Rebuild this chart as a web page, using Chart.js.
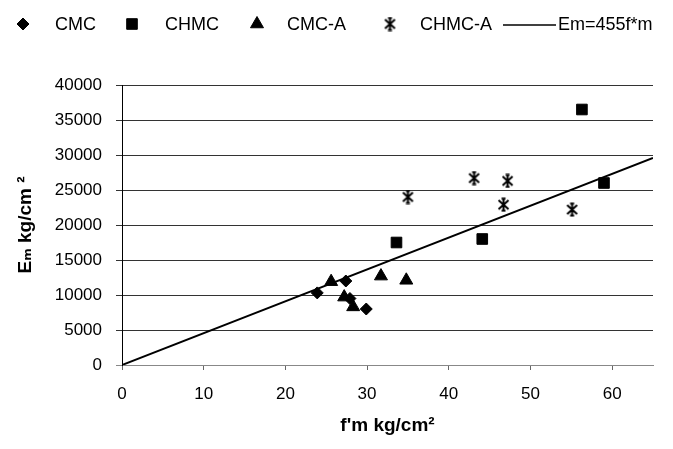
<!DOCTYPE html>
<html>
<head>
<meta charset="utf-8">
<script src="https://cdn.jsdelivr.net/npm/chart.js@4.4.0/dist/chart.umd.min.js"></script>
<style>
html, body { margin: 0; padding: 0; background: #fff; }
</style>
</head>
<body>
<canvas id="myChart" width="673" height="449"></canvas>
<script>
// values
var cmcX = [23.9, 27.4, 27.9, 29.9];
var cmcY = [10300, 12000, 9500, 8000];

var chmcX = [33.6, 44.1, 56.3, 59.0];
var chmcY = [17500, 18000, 36500, 26000];

var cmcaX = [25.6, 27.2, 28.3, 31.7, 34.8];
var cmcaY = [11900, 9700, 8300, 12700, 12100];

var chmcaX = [35.0, 43.1, 46.7, 47.2, 55.1];
var chmcaY = [24000, 26700, 22900, 26300, 22200];

// Em = 455 f'm, drawn across the x range
var fitX = [0, 65];
var fitY = [0, 29575];

var seriesNames = ['CMC', 'CHMC', 'CMC-A', 'CHMC-A', 'Em=455f*m'];

function toPoints(xs, ys) {
    return xs.map(function(x, i) { return { x: x, y: ys[i] }; });
}

// asterisk marker like the excel "star"
function makeStar() {
    var c = document.createElement('canvas');
    c.width = 15; c.height = 15;
    var g = c.getContext('2d');
    g.strokeStyle = '#000';
    g.lineWidth = 2;
    g.beginPath();
    g.moveTo(7.5, 1); g.lineTo(7.5, 14);
    g.moveTo(2.5, 3); g.lineTo(12.5, 12);
    g.moveTo(12.5, 3); g.lineTo(2.5, 12);
    g.moveTo(5.5, 1.5); g.lineTo(9.5, 1.5);
    g.moveTo(5.5, 13.5); g.lineTo(9.5, 13.5);
    g.stroke();
    return c;
}
var star = makeStar();

var font = "'Liberation Sans', Arial, 'DejaVu Sans', sans-serif";

var legendPlugin = {
    id: 'topLegend',
    afterDraw: function(chart) {
        var ctx = chart.ctx;
        var ds = chart.data.datasets;
        var markX = [23, 132, 257, 390];
        var textX = [55, 165, 287, 420];
        var y = 24;
        ctx.save();
        ctx.fillStyle = '#000';
        ctx.strokeStyle = '#000';
        for (var i = 0; i < 4; i++) {
            Chart.helpers.drawPoint(ctx, {
                pointStyle: ds[i].pointStyle,
                radius: ds[i].pointRadius,
                rotation: 0,
                borderWidth: 1
            }, markX[i], y);
        }
        ctx.lineWidth = 1.5;
        ctx.beginPath();
        ctx.moveTo(503, y + 1);
        ctx.lineTo(556, y + 1);
        ctx.stroke();
        ctx.font = '18px ' + font;
        ctx.textBaseline = 'middle';
        for (var j = 0; j < 4; j++) {
            ctx.fillText(ds[j].label, textX[j], y + 1);
        }
        ctx.fillText(ds[4].label, 558, y + 1);
        ctx.restore();
    }
};

var ctx = document.getElementById('myChart');

var myChart = new Chart(ctx, {
    type: 'scatter',
    data: {
        datasets: [{
            label: seriesNames[0],
            data: toPoints(cmcX, cmcY),
            pointStyle: 'rectRot',
            pointRadius: 6,
            backgroundColor: '#000',
            borderColor: '#000'
        }, {
            label: seriesNames[1],
            data: toPoints(chmcX, chmcY),
            pointStyle: 'rect',
            pointRadius: 7.5,
            backgroundColor: '#000',
            borderColor: '#000'
        }, {
            label: seriesNames[2],
            data: toPoints(cmcaX, cmcaY),
            pointStyle: 'triangle',
            pointRadius: 7.5,
            backgroundColor: '#000',
            borderColor: '#000'
        }, {
            label: seriesNames[3],
            data: toPoints(chmcaX, chmcaY),
            pointStyle: star,
            pointRadius: 7,
            backgroundColor: '#000',
            borderColor: '#000'
        }, {
            label: seriesNames[4],
            data: toPoints(fitX, fitY),
            type: 'line',
            showLine: true,
            pointRadius: 0,
            borderColor: '#000',
            borderWidth: 2,
            fill: false
        }]
    },
    options: {
        responsive: false,
        animation: false,
        layout: {
            padding: { top: 85, left: 14, right: 20, bottom: 8 }
        },
        plugins: {
            legend: { display: false },
            tooltip: { enabled: false }
        },
        scales: {
            x: {
                type: 'linear',
                min: 0,
                max: 65,
                afterFit: function(s) { s.height = 76; },
                ticks: {
                    stepSize: 10,
                    includeBounds: false,
                    color: '#000',
                    padding: 14,
                    font: { family: font, size: 17 }
                },
                grid: {
                    drawOnChartArea: false,
                    drawTicks: true,
                    tickLength: 5,
                    color: '#666'
                },
                border: { color: '#888', width: 1 },
                title: {
                    display: true,
                    text: "f'm kg/cm²",
                    color: '#000',
                    padding: { top: 4, bottom: 4 },
                    font: { family: font, size: 19, weight: 'bold' }
                }
            },
            y: {
                min: 0,
                max: 40000,
                afterFit: function(s) { s.width = 108; },
                ticks: {
                    stepSize: 5000,
                    color: '#000',
                    padding: 14,
                    font: { family: font, size: 17 },
                    callback: function(v) { return String(v); }
                },
                grid: {
                    tickLength: 6,
                    color: function(c) { return c.tick && c.tick.value === 0 ? '#888' : '#333'; },
                    lineWidth: 1
                },
                border: { color: '#000', width: 1 },
                title: {
                    display: true,
                    text: 'Eₘ kg/cm ²',
                    color: '#000',
                    padding: { top: 0, bottom: 4 },
                    font: { family: font, size: 19, weight: 'bold' }
                }
            }
        }
    },
    plugins: [legendPlugin]
});
</script>
</body>
</html>
